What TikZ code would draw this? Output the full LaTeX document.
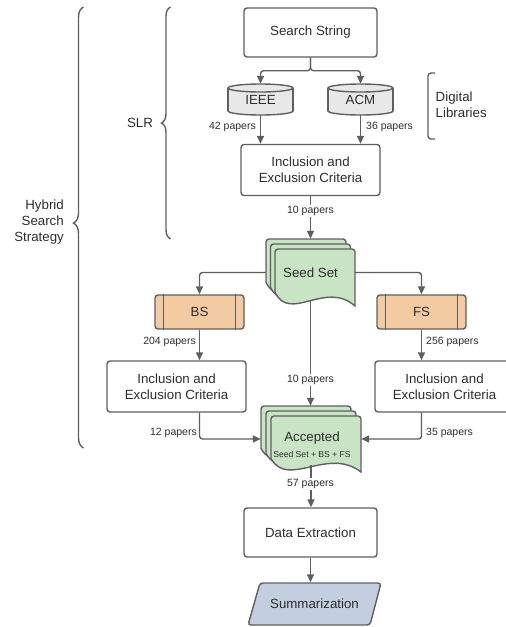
\documentclass[tikz,border=0pt]{standalone}
\usepackage{fontspec}
\setmainfont{Liberation Sans}
\usetikzlibrary{arrows.meta,decorations.pathreplacing,calc}
\definecolor{ln}{RGB}{95,95,95}
\definecolor{tx}{RGB}{45,45,45}
\definecolor{grn}{RGB}{201,228,197}
\definecolor{org}{RGB}{242,203,162}
\definecolor{cylg}{RGB}{232,232,232}
\definecolor{blu}{RGB}{195,206,224}
\newcommand\mainfs{\fontsize{13.3}{16}\selectfont}
\newcommand\labfs{\fontsize{10.5}{12}\selectfont}
\newcommand\tinyfs{\fontsize{8.6}{10}\selectfont}
% document page: left top width height
\newcommand\docpage[4]{%
  \filldraw[draw=ln, fill=grn, line width=1.4pt]
    (#1+#3,#2+#4) .. controls (#1+0.63*#3,#2+0.54*#4) and (#1+0.19*#3,#2+1.3*#4) .. (#1,#2+0.76*#4)
    [rounded corners=3pt] -- (#1,#2) -- (#1+#3,#2) [sharp corners] -- cycle;}
% cylinder: left top right bottom
\newcommand\cylshape[4]{%
  \fill[cylg] (#1,#2+4) rectangle (#3,#4-4);
  \fill[cylg] ({(#1+#3)/2},#4-4) ellipse [x radius={(#3-#1)/2}, y radius=4];
  \draw[ln, line width=1.4pt] (#1,#2+4) -- (#1,#4-4) (#3,#2+4) -- (#3,#4-4);
  \begin{scope}
    \clip (#1-3,#4-4) rectangle (#3+3,#4+3);
    \draw[ln, line width=1.4pt] ({(#1+#3)/2},#4-4) ellipse [x radius={(#3-#1)/2}, y radius=4];
  \end{scope}
  \filldraw[draw=ln, fill=cylg, line width=1.4pt] ({(#1+#3)/2},#2+4) ellipse [x radius={(#3-#1)/2}, y radius=4];}
\begin{document}
\begin{tikzpicture}[x=1pt,y=-1pt,
  box/.style={draw=ln, line width=1.4pt, rounded corners=3pt, fill=white, text=tx, font=\mainfs, align=center, inner sep=0pt},
  region/.style={inner sep=0pt, text=tx, font=\mainfs, align=center},
  conn/.style={draw=ln, line width=1.4pt, rounded corners=3pt, -{Triangle[length=8pt,width=7pt]}},
  plain/.style={draw=ln, line width=1.4pt, rounded corners=3pt},
  lab/.style={text=tx, font=\labfs, inner sep=0pt},
  onlab/.style={text=tx, font=\labfs, fill=white, inner sep=1.5pt},
  proc/.style={box, fill=org, minimum width=89pt, minimum height=34pt},
  incl/.style={box, minimum width=139pt, minimum height=51pt}]
\useasboundingbox (0,0) rectangle (506,627);
\clip (0,0) rectangle (506,627);

% shapes drawn directly
\cylshape{228}{84}{293}{115}
\cylshape{328}{84}{393}{115}
\docpage{266}{239}{80}{57}
\docpage{270.5}{244}{80}{57}
\docpage{275}{249}{80}{57}
\docpage{261}{406}{90}{56}
\docpage{266}{411}{90}{56}
\docpage{271}{416}{90}{56}
\filldraw[draw=ln, fill=blu, line width=1.4pt, rounded corners=3pt]
  (260,583) -- (381,583) -- (370,625) -- (248,625) -- cycle;

% nodes
\node[box, minimum width=133pt, minimum height=49pt] (search) at (310.5,32.5) {Search String};
\node[region, minimum width=65pt, minimum height=31pt] (ieee) at (260.5,99.5) {\raisebox{-2.5pt}{IEEE}};
\node[region, minimum width=65pt, minimum height=31pt] (acm) at (360.5,99.5) {\raisebox{-2.5pt}{ACM}};
\node[incl] (incl1) at (310.5,170) {Inclusion and\\Exclusion Criteria};
\node[region, minimum width=89pt, minimum height=67pt] (seed) at (310.5,272.5) {Seed Set};
\node[proc] (bs) at (199.5,312) {BS};
\node[proc] (fs) at (421.5,312) {FS};
\node[incl] (incl2) at (176.5,386.5) {Inclusion and\\Exclusion Criteria};
\node[incl] (incl3) at (444.5,386.5) {Inclusion and\\Exclusion Criteria};
\node[region, minimum width=100pt, minimum height=66pt] (acc) at (311,439) {};
\node[region] (acct) at (312,438) {Accepted};
\node[region, font=\tinyfs] (accs) at (312,454) {Seed Set + BS + FS};
\node[box, minimum width=133pt, minimum height=49pt] (data) at (310.5,532.5) {Data Extraction};
\node[region, minimum width=121pt, minimum height=42pt] (summ) at (314.5,603.5) {Summarization};

% side bars of the BS / FS boxes
\foreach \n in {bs,fs}{
  \draw[ln, line width=1.4pt] ($(\n.north west)+(9,0)$) -- ($(\n.south west)+(9,0)$);
  \draw[ln, line width=1.4pt] ($(\n.north east)+(-9,0)$) -- ($(\n.south east)+(-9,0)$);
}

% connectors
\draw[conn] (search.south) -- ++(0,13) -| (ieee.north);
\draw[conn] (search.south) -- ++(0,13) -| (acm.north);
\draw[conn] (ieee.south) -- (ieee.south |- incl1.north);
\draw[conn] (acm.south) -- (acm.south |- incl1.north);
\draw[conn] (incl1.south) -- (seed.north);
\draw[conn] (seed.west) -| (bs.north);
\draw[conn] (seed.east) -| (fs.north);
\draw[conn] (bs.south) -- (bs.south |- incl2.north);
\draw[conn] (fs.south) -- (fs.south |- incl3.north);
\draw[conn] (incl2.south -| bs.south) |- (acc.west);
\draw[conn] (incl3.south -| fs.south) |- (acc.east);
\draw[conn] ([yshift=6pt]seed.south) -- (seed.south |- acc.north);
\draw[conn] ([yshift=7pt]acc.south) -- (acc.south |- data.north);
\draw[conn] (data.south) -- (data.south |- summ.north);

% connector labels
\node[lab, anchor=east] (l42) at (256,127) {42 papers};
\node[lab, anchor=west] (l36) at (366,127) {36 papers};
\node[onlab] (l10a) at (310.5,211) {10 papers};
\node[lab, anchor=east] (l204) at (196,342) {204 papers};
\node[lab, anchor=west] (l256) at (426,342) {256 papers};
\node[onlab] (l10b) at (310.5,380) {10 papers};
\node[lab, anchor=east] (l12) at (197,433) {12 papers};
\node[lab, anchor=west] (l35) at (426,433) {35 papers};
\node[onlab] (l57) at (310.5,484) {57 papers};

% braces and bracket
\draw[ln, line width=1.4pt, decorate, decoration={brace, amplitude=9pt}] (170.5,239) -- (170.5,7);
\draw[ln, line width=1.4pt, decorate, decoration={brace, amplitude=10pt, aspect=0.51}] (83.5,448) -- (83.5,7);
\draw[plain] (435,73) -- (428,73) -- (428,139) -- (435,139);
\node[region] (slr) at (140,123) {SLR};
\node[region, align=right, anchor=east] (hyb) at (64,222) {Hybrid\\Search\\Strategy};
\node[region, align=left, anchor=west] (dl) at (435.5,105) {Digital\\Libraries};
\end{tikzpicture}
\end{document}
